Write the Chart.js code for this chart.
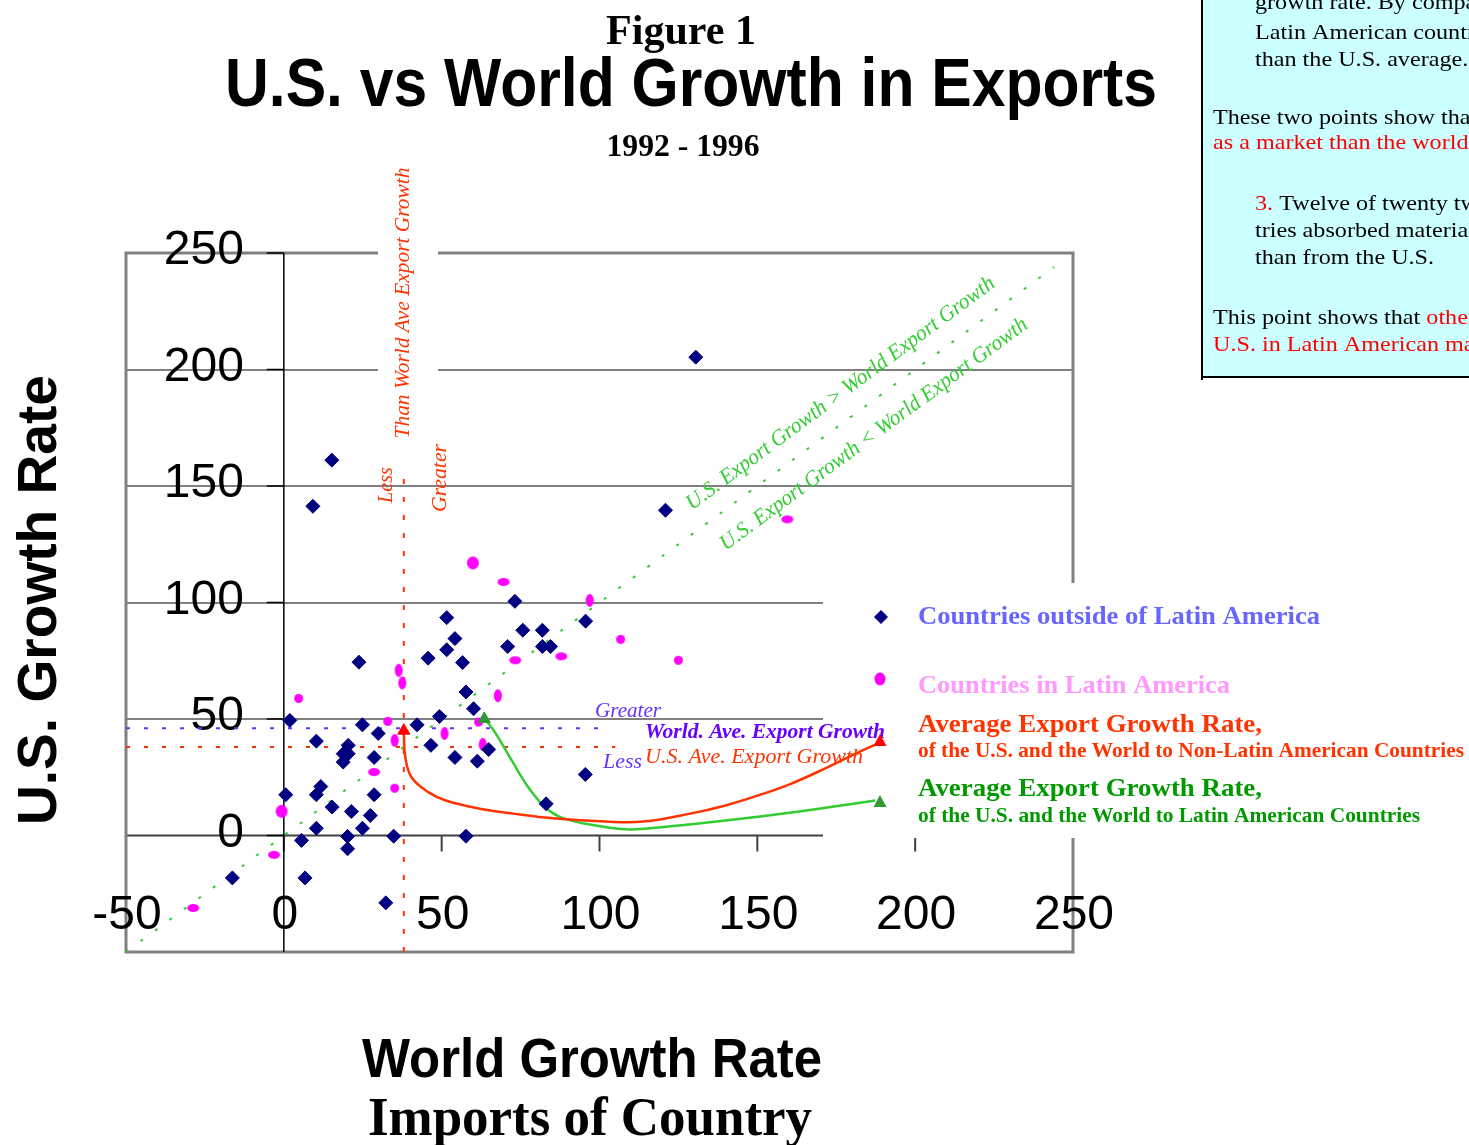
<!DOCTYPE html>
<html>
<head>
<meta charset="utf-8">
<title>U.S. vs World Growth in Exports</title>
<script src="https://cdn.jsdelivr.net/npm/chart.js@4.4.1/dist/chart.umd.min.js"></script>
<style>
  html, body { margin: 0; padding: 0; background: #ffffff; overflow: hidden; }
  canvas { display: block; }
</style>
</head>
<body>
<canvas id="chart" width="1469" height="1145"></canvas>
<script>
// ---------- axis ticks ----------
const X_TICKS = [-50, 0, 50, 100, 150, 200, 250];
const Y_TICKS = [0, 50, 100, 150, 200, 250];
const Y_GRID = [50, 100, 150, 200];

// ---------- countries outside of Latin America (world growth, U.S. growth) ----------
const NON_LATIN_X = [130.5, 15.2, 9.2, 120.9, 95.6, 73.2, 51.6, 75.7, 54.2, 81.9,
                     70.9, 81.9, 84.5, 51.6, 45.7, 56.6, 23.8, 57.7, 60.1, 49.3,
                     1.9, 42.2, 24.9, 29.9, 10.3, 20.4, 18.8, 20.4, 18.8, 28.6,
                     46.6, 64.9, 54.2, 61.3, 95.5, 11.7, 10.3, 0.6, 28.6, 15.3,
                     21.4, 27.4, 10.3, 24.9, 83.1, 20.2, 34.8, 57.7, 5.6, 20.2,
                     6.7, -16.3, 32.3];
const NON_LATIN_Y = [205.3, 161.1, 141.3, 139.6, 92.0, 100.5, 93.5, 88.1, 84.5, 88.1,
                     81.1, 81.1, 81.1, 79.7, 76.1, 74.2, 74.4, 61.6, 54.4, 51.1,
                     49.4, 47.5, 47.5, 43.8, 40.5, 38.7, 35.1, 35.1, 31.5, 33.5,
                     38.7, 36.9, 33.5, 31.9, 26.2, 21.0, 17.5, 17.5, 17.5, 12.2,
                     10.3, 8.6, 3.1, 3.1, 13.6, -0.4, -0.3, -0.3, -2.1, -5.7,
                     -18.2, -18.2, -28.9];

// ---------- countries in Latin America ----------
const LATIN_X = [59.9, 69.6, 96.9, 159.5, 106.7, 73.3, 87.9, 125.0, 67.8, 36.4,
                 37.5, 4.7, 32.9, 50.9, 61.7, 63.0, 35.1, 28.6, 35.1, -0.7,
                 -3.1, -28.7];
const LATIN_Y = [117.0, 108.8, 100.9, 135.7, 84.2, 75.2, 76.9, 75.2, 60.0, 70.9,
                 65.5, 58.8, 49.0, 43.8, 48.7, 39.1, 40.8, 27.2, 20.3, 10.4,
                 -8.3, -31.1];
// marker outline per country: h = wide oval, v = tall oval, c = dot, C = big dot
const LATIN_MARK = ['C', 'h', 'v', 'h', 'c', 'h', 'h', 'c', 'v', 'v',
                    'v', 'c', 'c', 'v', 'c', 'v', 'v', 'h', 'c', 'C',
                    'h', 'h'];

// ---------- average export growth (non-Latin, Latin) ----------
const AVG_X = [38.0, 63.5];
const AVG_Y = [45.0, 50.0];

// ---------- reference levels ----------
const WORLD_AVG_X = 38;     // vertical divider
const WORLD_AVG_Y = 46;     // World. Ave. Export Growth
const US_AVG_Y = 38;        // U.S. Ave. Export Growth
const DIAG = [-50, 244];    // U.S. growth = world growth

// ---------- connector curves from the legend to the averages ----------
const RED_CURVE_X = [38.0, 38.5, 40.5, 45.9, 51.3, 61.7, 72.2, 86.1, 101.9, 113.9, 129.1, 139.9, 150.3, 160.8, 171.5, 182.0, 188.3];
const RED_CURVE_Y = [44.7, 33.5, 24.9, 18.5, 15.0, 11.6, 9.5, 7.3, 6.0, 6.0, 9.5, 12.9, 17.2, 22.3, 28.8, 35.7, 39.5];
const GREEN_CURVE_X = [63.6, 67.1, 72.2, 77.5, 82.9, 88.0, 98.7, 109.2, 118.7, 139.9, 160.8, 187.3];
const GREEN_CURVE_Y = [50.3, 43.8, 32.2, 20.6, 12.0, 7.7, 4.3, 2.6, 3.4, 6.4, 9.9, 15.0];

// ---------- colours & fonts ----------
const NAVY = '#000080', MAGENTA = '#FF00FF', ORANGE = '#FF3300', PURPLE = '#6633FF';
const GREEN_DOT = '#33CC33', DARK_GREEN = '#339933';
const SANS = '"Liberation Sans", Arial, Helvetica, sans-serif';
const SERIF = '"Liberation Serif", "Times New Roman", Times, serif';

const pairs = (xs, ys) => xs.map((v, i) => ({ x: v, y: ys[i] }));

function ovalSprite(rx, ry) {
  const c = document.createElement('canvas');
  c.width = Math.ceil(rx * 2) + 2;
  c.height = Math.ceil(ry * 2) + 2;
  const g = c.getContext('2d');
  g.fillStyle = MAGENTA;
  g.beginPath();
  g.ellipse(c.width / 2, c.height / 2, rx, ry, 0, 0, Math.PI * 2);
  g.fill();
  return c;
}
const SPRITES = { h: ovalSprite(6, 4), v: ovalSprite(4, 6.5), c: ovalSprite(4.5, 4.5), C: ovalSprite(6, 6.5) };

function drawText(ctx, s, x, y, o) {
  ctx.save();
  ctx.font = o.font;
  ctx.fillStyle = o.color || '#000';
  ctx.textBaseline = o.baseline || 'alphabetic';
  ctx.textAlign = o.align || 'left';
  ctx.translate(x, y);
  if (o.rotate) ctx.rotate(o.rotate);
  if (o.width) ctx.scale(o.width / ctx.measureText(s).width, 1);
  else if (o.stretch) ctx.scale(o.stretch, 1);
  ctx.fillText(s, 0, 0);
  ctx.restore();
}

function seg(ctx, x1, y1, x2, y2) {
  ctx.beginPath(); ctx.moveTo(x1, y1); ctx.lineTo(x2, y2); ctx.stroke();
}

// side note panel
const NOTE_LINES = [
  { x: 1255, y: 9,   parts: [['growth rate. By comparison,', '#000']] },
  { x: 1255, y: 39,  parts: [['Latin American countries', '#000']] },
  { x: 1255, y: 66,  parts: [['than the U.S. average.', '#000']] },
  { x: 1213, y: 124, parts: [['These two points show that', '#000']] },
  { x: 1213, y: 149, parts: [['as a market than the world.', '#FF0000']] },
  { x: 1255, y: 210, parts: [['3.', '#FF0000'], [' Twelve of twenty two', '#000']] },
  { x: 1255, y: 237, parts: [['tries absorbed materials', '#000']] },
  { x: 1255, y: 264, parts: [['than from the U.S.', '#000']] },
  { x: 1213, y: 324, parts: [['This point shows that ', '#000'], ['other', '#FF0000']] },
  { x: 1213, y: 351, parts: [['U.S. in Latin American markets', '#FF0000']] }
];

const decor = {
  id: 'decor',
  beforeDatasetsDraw(chart) {
    const { ctx, chartArea: a, scales: { x, y } } = chart;
    const x0 = x.getPixelForValue(0), y0 = y.getPixelForValue(0);
    ctx.save();
    ctx.lineCap = 'butt';

    // horizontal gridlines
    ctx.strokeStyle = '#808080'; ctx.lineWidth = 2;
    Y_GRID.forEach(v => { const p = Math.round(y.getPixelForValue(v)); seg(ctx, a.left, p, a.right, p); });

    // x axis through zero with tick marks
    ctx.strokeStyle = '#404040'; ctx.lineWidth = 2;
    seg(ctx, a.left, y0, a.right, y0);
    X_TICKS.forEach(v => { const p = x.getPixelForValue(v); seg(ctx, p, y0, p, y0 + 16); });

    // plot frame
    ctx.strokeStyle = '#808080'; ctx.lineWidth = 3;
    ctx.strokeRect(a.left, a.top, a.right - a.left, a.bottom - a.top);

    // y axis through zero with tick marks
    ctx.strokeStyle = '#000'; ctx.lineWidth = 1.5;
    seg(ctx, x0, a.top, x0, a.bottom);
    Y_TICKS.forEach(v => { const p = y.getPixelForValue(v); seg(ctx, x0 - 17, p, x0, p); });

    // white backing behind the vertical caption and the legend
    ctx.fillStyle = '#fff';
    ctx.fillRect(378, 158, 60, 288);
    ctx.fillRect(823, 583, 646, 255);

    // tick labels
    Y_TICKS.forEach(v => drawText(ctx, String(v), x0 - 40, y.getPixelForValue(v) - 2,
      { font: `48px ${SANS}`, align: 'right', baseline: 'middle' }));
    X_TICKS.forEach(v => drawText(ctx, String(v), x.getPixelForValue(v) + 1, y0 + 93,
      { font: `48px ${SANS}`, align: 'center' }));

    // titles
    drawText(ctx, 'Figure 1', 681, 44, { font: `bold 42px ${SERIF}`, align: 'center', width: 150 });
    drawText(ctx, 'U.S. vs World Growth in Exports', 691, 106, { font: `bold 68px ${SANS}`, align: 'center', width: 932 });
    drawText(ctx, '1992 - 1996', 683, 156, { font: `bold 31px ${SERIF}`, align: 'center', width: 153 });

    // axis titles
    drawText(ctx, 'U.S. Growth Rate', 56, 600, { font: `bold 56px ${SANS}`, align: 'center', rotate: -Math.PI / 2, width: 450 });
    drawText(ctx, 'World Growth Rate', 592, 1077, { font: `bold 56px ${SANS}`, align: 'center', width: 460 });
    drawText(ctx, 'Imports of Country', 590, 1135, { font: `bold 54px ${SERIF}`, align: 'center', width: 444 });

    // side note panel
    ctx.fillStyle = '#CCFFFF';
    ctx.fillRect(1203, 0, 266, 376);
    ctx.strokeStyle = '#000'; ctx.lineWidth = 2;
    seg(ctx, 1202, 0, 1202, 380);
    seg(ctx, 1201, 377, 1469, 377);
    const stretch = 1.15;
    NOTE_LINES.forEach(line => {
      let px = line.x;
      line.parts.forEach(([t, c]) => {
        drawText(ctx, t, px, line.y, { font: `21px ${SERIF}`, color: c, stretch });
        ctx.font = `21px ${SERIF}`;
        px += ctx.measureText(t).width * stretch;
      });
    });
    ctx.restore();
  },
  afterDatasetsDraw(chart) {
    const { ctx, scales: { x, y } } = chart;
    ctx.save();

    // divider captions
    drawText(ctx, 'Than World Ave Export Growth', 409, 303, { font: `italic 21px ${SERIF}`, color: ORANGE, align: 'center', rotate: -Math.PI / 2, width: 271 });
    drawText(ctx, 'Less', 392, 485, { font: `italic 21px ${SERIF}`, color: ORANGE, align: 'center', rotate: -Math.PI / 2, width: 36 });
    drawText(ctx, 'Greater', 446, 478, { font: `italic 21px ${SERIF}`, color: ORANGE, align: 'center', rotate: -Math.PI / 2, width: 68 });

    drawText(ctx, 'Greater', 595, 717, { font: `italic 21px ${SERIF}`, color: PURPLE, width: 66 });
    drawText(ctx, 'World. Ave. Export Growth', 645, 738, { font: `italic bold 21px ${SERIF}`, color: '#6600FF', width: 240 });
    drawText(ctx, 'U.S. Ave. Export Growth', 645, 763, { font: `italic 22px ${SERIF}`, color: ORANGE, width: 218 });
    drawText(ctx, 'Less', 603, 768, { font: `italic 21px ${SERIF}`, color: PURPLE, width: 39 });

    // captions along the diagonal
    const ang = Math.atan2(y.getPixelForValue(100) - y.getPixelForValue(0), x.getPixelForValue(100) - x.getPixelForValue(0));
    drawText(ctx, 'U.S. Export Growth > World Export Growth', x.getPixelForValue(177.5), y.getPixelForValue(187.7),
      { font: `italic 22px ${SERIF}`, color: GREEN_DOT, align: 'center', rotate: ang, width: 378 });
    drawText(ctx, 'U.S. Export Growth < World Export Growth', x.getPixelForValue(188.0), y.getPixelForValue(170.1),
      { font: `italic 22px ${SERIF}`, color: GREEN_DOT, align: 'center', rotate: ang, width: 377 });

    // legend markers
    ctx.fillStyle = NAVY;
    ctx.beginPath(); ctx.moveTo(881, 610); ctx.lineTo(888, 617); ctx.lineTo(881, 624); ctx.lineTo(874, 617); ctx.closePath(); ctx.fill();
    ctx.fillStyle = MAGENTA;
    ctx.beginPath(); ctx.ellipse(880, 679, 5.5, 6.5, 0, 0, Math.PI * 2); ctx.fill();
    const tri = (cx, cy, col) => {
      ctx.fillStyle = col;
      ctx.beginPath(); ctx.moveTo(cx, cy - 7); ctx.lineTo(cx + 6.5, cy + 5); ctx.lineTo(cx - 6.5, cy + 5); ctx.closePath(); ctx.fill();
    };
    tri(880, 741, '#FF0000');
    tri(880, 802, DARK_GREEN);

    // legend text
    drawText(ctx, 'Countries outside of Latin America', 918, 624, { font: `bold 26px ${SERIF}`, color: '#6666FF', width: 402 });
    drawText(ctx, 'Countries in Latin America', 918, 693, { font: `bold 26px ${SERIF}`, color: '#FF99FF', width: 312 });
    drawText(ctx, 'Average Export Growth Rate,', 918, 732, { font: `bold 26px ${SERIF}`, color: ORANGE, width: 344 });
    drawText(ctx, 'of the U.S. and the World to Non-Latin American Countries', 918, 757, { font: `bold 21px ${SERIF}`, color: ORANGE, width: 546 });
    drawText(ctx, 'Average Export Growth Rate,', 918, 796, { font: `bold 26px ${SERIF}`, color: '#009900', width: 344 });
    drawText(ctx, 'of the U.S. and the World to Latin American Countries', 918, 822, { font: `bold 21px ${SERIF}`, color: '#009900', width: 502 });
    ctx.restore();
  }
};

const lineSet = (data, color, dash, order) => ({
  data, showLine: true, borderColor: color, borderWidth: 2, borderDash: dash,
  pointRadius: 0, fill: false, order
});

new Chart(document.getElementById('chart'), {
  type: 'scatter',
  data: {
    datasets: [
      lineSet([{ x: DIAG[0], y: DIAG[0] }, { x: DIAG[1], y: DIAG[1] }], GREEN_DOT, [3, 15], 10),
      lineSet([{ x: -50, y: WORLD_AVG_Y }, { x: 104, y: WORLD_AVG_Y }], PURPLE, [4, 14], 10),
      lineSet([{ x: -50, y: US_AVG_Y }, { x: 105, y: US_AVG_Y }], ORANGE, [4, 14], 10),
      lineSet([{ x: WORLD_AVG_X, y: -50 }, { x: WORLD_AVG_X, y: 158 }], ORANGE, [5, 13], 10),
      Object.assign(lineSet(pairs(RED_CURVE_X, RED_CURVE_Y), ORANGE, [], 5), { borderWidth: 2.5, tension: 0.4 }),
      Object.assign(lineSet(pairs(GREEN_CURVE_X, GREEN_CURVE_Y), GREEN_DOT, [], 5), { borderWidth: 2.5, tension: 0.4 }),
      {
        label: 'Countries in Latin America',
        data: pairs(LATIN_X, LATIN_Y),
        pointStyle: LATIN_MARK.map(k => SPRITES[k]),
        pointRadius: 5, order: 3
      },
      {
        label: 'Countries outside of Latin America',
        data: pairs(NON_LATIN_X, NON_LATIN_Y),
        pointStyle: 'rectRot', pointRadius: 7,
        backgroundColor: NAVY, borderColor: NAVY, borderWidth: 1, order: 2
      },
      {
        label: 'Average Export Growth Rate',
        data: pairs(AVG_X, AVG_Y),
        pointStyle: 'triangle', pointRadius: 7,
        backgroundColor: ['#FF0000', DARK_GREEN], borderColor: ['#FF0000', DARK_GREEN], borderWidth: 1, order: 1
      }
    ]
  },
  options: {
    responsive: false,
    devicePixelRatio: 1,
    animation: false,
    events: [],
    layout: { padding: { left: 126, top: 253, right: 396, bottom: 193 } },
    scales: {
      x: { type: 'linear', min: -50, max: 250, display: false },
      y: { type: 'linear', min: -50, max: 250, display: false }
    },
    plugins: { legend: { display: false }, tooltip: { enabled: false } }
  },
  plugins: [decor]
});
</script>
</body>
</html>
